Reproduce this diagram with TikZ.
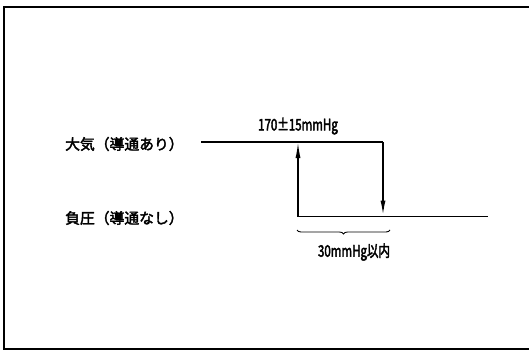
\documentclass[tikz,border=0pt]{standalone}
\usepackage{fontspec}
\newfontfamily\jp{Noto Sans CJK JP}[FakeBold=2.5]
\newfontfamily\jpn{Noto Sans CJK JP}[FakeStretch=0.72,FakeBold=2.5]
\usetikzlibrary{arrows.meta,decorations.pathreplacing}
\begin{document}
\begin{tikzpicture}[x=1pt,y=-1pt,
  lbl/.style={inner sep=0pt,font=\jp\fontsize{14.8}{16}\selectfont},
  num/.style={inner sep=0pt,font=\jpn\fontsize{16}{17}\selectfont},
  wave/.style={line width=1.5pt},
  tip/.style={-{Latex[length=16pt,width=5pt]}}]
\useasboundingbox (0,0) rectangle (529,354);
\draw[line width=1.3pt] (529,7) -- (4,7) -- (4,349) -- (529,349);
% labels
\node[lbl,anchor=west] (atm) at (65,144) {大気（導通あり）};
\node[lbl,anchor=west] (neg) at (65,218) {負圧（導通なし）};
\node[num] (top) at (298,126) {170±15mmHg};
\node[num] (bot) at (354,252) {30mmHg以内};
% corners
\coordinate (s) at (201,142);
\coordinate (u) at (298,142);
\coordinate (r) at (383,142);
\coordinate (d) at (383,216.5);
\coordinate (l) at (298,216.5);
\coordinate (e) at (488,216.5);
\draw[wave] (s) -- (r);
\draw[wave] (l) -- (e);
\draw[line width=1.4pt,tip] (l) -- (u);
\draw[line width=1.8pt,tip] (r) -- (d);
% brace
\coordinate (b1) at (297,230);
\coordinate (b2) at (390,230);
\draw[line width=0.9pt,decorate,decoration={brace,mirror,amplitude=4pt}] (b1) -- (b2);
\end{tikzpicture}
\end{document}
